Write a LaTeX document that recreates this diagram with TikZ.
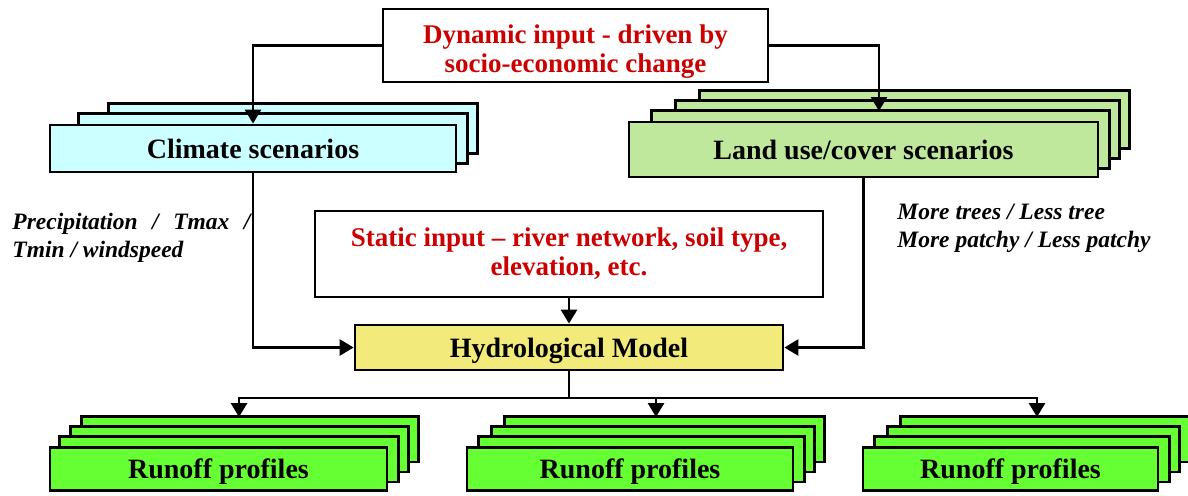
\documentclass[tikz,border=0pt]{standalone}
\usepackage{fontspec}
\setmainfont{Liberation Serif}
\usetikzlibrary{calc,backgrounds,arrows.meta}

\definecolor{climcol}{RGB}{204,255,255}
\definecolor{landcol}{RGB}{192,232,156}
\definecolor{hydrocol}{RGB}{242,234,122}
\definecolor{runcol}{RGB}{102,255,51}
\definecolor{inred}{RGB}{204,0,0}

\newcommand{\stackbehind}[5]{%
	\foreach \k in {#2,...,1}{%
		\draw[layer,fill=#5] ($(#1.north west)+(#3*\k,-10*\k)$) rectangle ($(#1.south east)+(#4*\k,-10*\k)$);}}

\begin{document}
\begin{tikzpicture}[x=0.5pt,y=-0.5pt,
	box/.style={draw,line width=1.4pt,font=\fontsize{14}{15}\selectfont\bfseries,align=center,inner sep=0pt},
	redtext/.style={text=inred,font=\fontsize{13.5}{14.5}\selectfont\bfseries,align=center},
	layer/.style={draw,line width=1.4pt},
	arr/.style={line width=1.4pt,-{Triangle[width=8pt,length=7pt]}},
	lbl/.style={font=\fontsize{11.75}{14}\selectfont\bfseries\itshape,align=left,inner sep=0pt}]
	
	\useasboundingbox (0,0) rectangle (1188,495);
	
	\node[box,fill=white,minimum width=192.5pt,minimum height=36.5pt,
		label={[redtext,yshift=-3pt]center:Dynamic input - driven by\\socio-economic change}] (d) at (575.5,45.5) {};
	
	\node[box,fill=climcol,minimum width=203pt,minimum height=23.5pt] (c) at (253,148.5) {Climate scenarios};
	
	\node[box,fill=landcol,minimum width=234.5pt,minimum height=27.5pt] (l) at (863.5,149.5) {Land use/cover scenarios};
	
	\node[box,redtext,fill=white,minimum width=254pt,minimum height=43pt] (s) at (569,254) {Static input -- river network, soil type,\\elevation, etc.};
	
	\node[box,fill=hydrocol,minimum width=214pt,minimum height=22.5pt,text depth=0pt] (h) at (569,347.5) {Hydrological Model};
	
	\node[box,fill=runcol,minimum width=168.5pt,minimum height=21.5pt,text depth=0pt] (r1) at (218.5,469) {Runoff profiles};
	
	\node[box,fill=runcol,minimum width=163pt,minimum height=21.5pt,text depth=0pt] (r2) at (630,469) {Runoff profiles};
	
	\node[box,fill=runcol,minimum width=147.5pt,minimum height=21.5pt,text depth=0pt] (r3) at (1010.5,469) {Runoff profiles};
	
	\node[lbl,anchor=north west] (p) at (12,213) {\makebox[119pt][s]{Precipitation / Tmax /}\\Tmin / windspeed};
	
	\node[lbl,anchor=north west] (t) at (897,204) {More trees / Less tree\\More patchy / Less patchy};
	
	\begin{scope}[on background layer]
		\stackbehind{c}{2}{30}{10}{climcol}
		\stackbehind{l}{3}{24}{10}{landcol}
		\stackbehind{r1}{3}{11}{10}{runcol}
		\stackbehind{r2}{3}{13}{10}{runcol}
		\stackbehind{r3}{3}{13}{10}{runcol}
	\end{scope}
	
	\coordinate (li) at (879,111);
	\coordinate (m) at (569,398);
	\coordinate (a1) at (239,417);
	\coordinate (a2) at (656,417);
	\coordinate (a3) at (1037,417);
	
	\draw[arr] (d.west) -| (c.north);
	\draw[arr] (d.east) -| (li);
	\draw[arr] (c.south) |- (h.west);
	\draw[arr] (l.south) |- (h.east);
	\draw[arr] (s.south) -- (h.north);
	\draw[line width=1.4pt] (h.south) -- (m);
	\draw[arr] (m) -| (a1);
	\draw[arr] (m) -| (a2);
	\draw[arr] (m) -| (a3);
	
\end{tikzpicture}
\end{document}
